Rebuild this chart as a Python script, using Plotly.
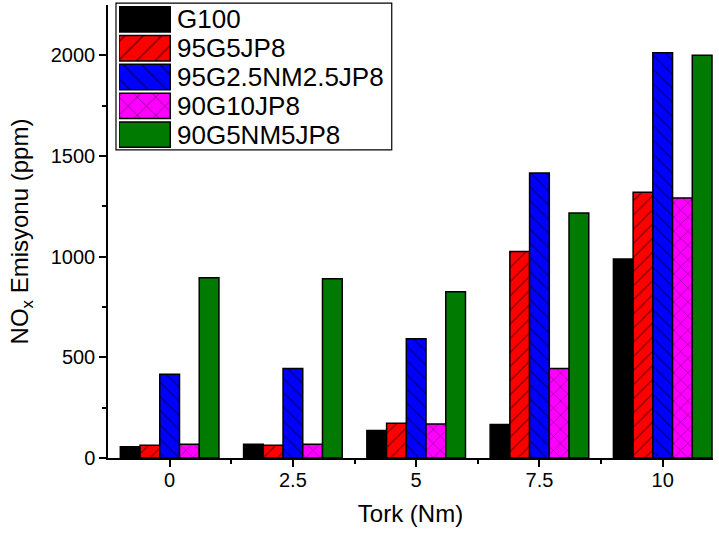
import plotly.graph_objects as go

torque = [0, 2.5, 5, 7.5, 10]
tick_labels = ["0", "2.5", "5", "7.5", "10"]
series_names = ["G100", "95G5JP8", "95G2.5NM2.5JP8", "90G10JP8", "90G5NM5JP8"]
g100 = [56, 68, 136, 166, 988]
g95_jp8 = [63, 63, 173, 1026, 1320]
g95_nm_jp8 = [416, 444, 592, 1416, 2013]
g90_jp8 = [68, 68, 169, 444, 1292]
g90_nm_jp8 = [895, 890, 826, 1217, 2000]

values = [g100, g95_jp8, g95_nm_jp8, g90_jp8, g90_nm_jp8]
colors = ["#000000", "#FF0000", "#0000FF", "#FF00FF", "#007A00"]
shapes = ["", "/", "\\", "x", ""]

FONT = "Arial, Liberation Sans, sans-serif"


def make_marker(col, shp, size):
    m = dict(color=col, line=dict(color="black", width=1.5))
    if shp:
        m["pattern"] = dict(shape=shp, fgcolor="black", bgcolor=col,
                            size=size, solidity=0.12, fillmode="overlay")
    return m


fig = go.Figure()
for name, vals, col, shp in zip(series_names, values, colors, shapes):
    fig.add_trace(go.Bar(x=torque, y=vals, name=name, showlegend=False,
                         marker=make_marker(col, shp, 10)))

# custom legend drawn as an inset axis with large patterned swatches
for name, col, shp in zip(series_names, colors, shapes):
    fig.add_trace(go.Bar(y=[name], x=[1], base=0, orientation="h", width=0.88,
                         xaxis="x2", yaxis="y2", showlegend=False, hoverinfo="skip",
                         marker=make_marker(col, shp, 13)))
    fig.add_annotation(x=1.09, y=name, xref="x2", yref="y2", text=name,
                       showarrow=False, xanchor="left", yanchor="middle",
                       font=dict(size=26, family=FONT, color="black"))

fig.add_shape(type="rect", xref="paper", yref="paper",
              x0=0.0132, x1=0.469, y0=0.68, y1=1.004,
              line=dict(color="black", width=1.2), fillcolor="white", layer="below")

fig.update_layout(
    barmode="group", bargap=0.2, bargroupgap=0,
    width=719, height=535,
    margin=dict(l=108, r=6, t=5, b=77),
    plot_bgcolor="white", paper_bgcolor="white",
    font=dict(family=FONT, color="black"),
    showlegend=False,
    xaxis=dict(range=[-1.25, 11.02], tickmode="array", tickvals=torque, ticktext=tick_labels,
               showline=True, linecolor="black", linewidth=1.5, ticks="outside",
               ticklen=7, tickwidth=1.5, tickcolor="black", showgrid=False, zeroline=False,
               tickfont=dict(size=20), automargin=False, ticklabelstandoff=-4,
               minor=dict(tickvals=[1.25, 3.75, 6.25, 8.75], ticks="outside", ticklen=4,
                          tickwidth=1.5, tickcolor="black"),
               title=dict(text="Tork (Nm)", font=dict(size=24))),
    yaxis=dict(range=[0, 2250], tickvals=[0, 500, 1000, 1500, 2000],
               showline=True, linecolor="black", linewidth=1.5, ticks="outside",
               ticklen=7, tickwidth=1.5, tickcolor="black", showgrid=False, zeroline=False,
               tickfont=dict(size=20), automargin=False,
               minor=dict(tickvals=[250, 750, 1250, 1750], ticks="outside", ticklen=4,
                          tickwidth=1.5, tickcolor="black"),
               title=dict(text="NO<sub>x</sub> Emisyonu (ppm)", font=dict(size=24))),
    xaxis2=dict(domain=[0.018, 0.4], range=[0, 4.5], visible=False, fixedrange=True),
    yaxis2=dict(domain=[0.682, 1.0], range=[4.5, -0.5], visible=False, fixedrange=True,
                type="category", categoryorder="array", categoryarray=series_names),
)

fig.write_html("out.html", config={"displayModeBar": False},
               post_script="document.body.style.margin='0';")
